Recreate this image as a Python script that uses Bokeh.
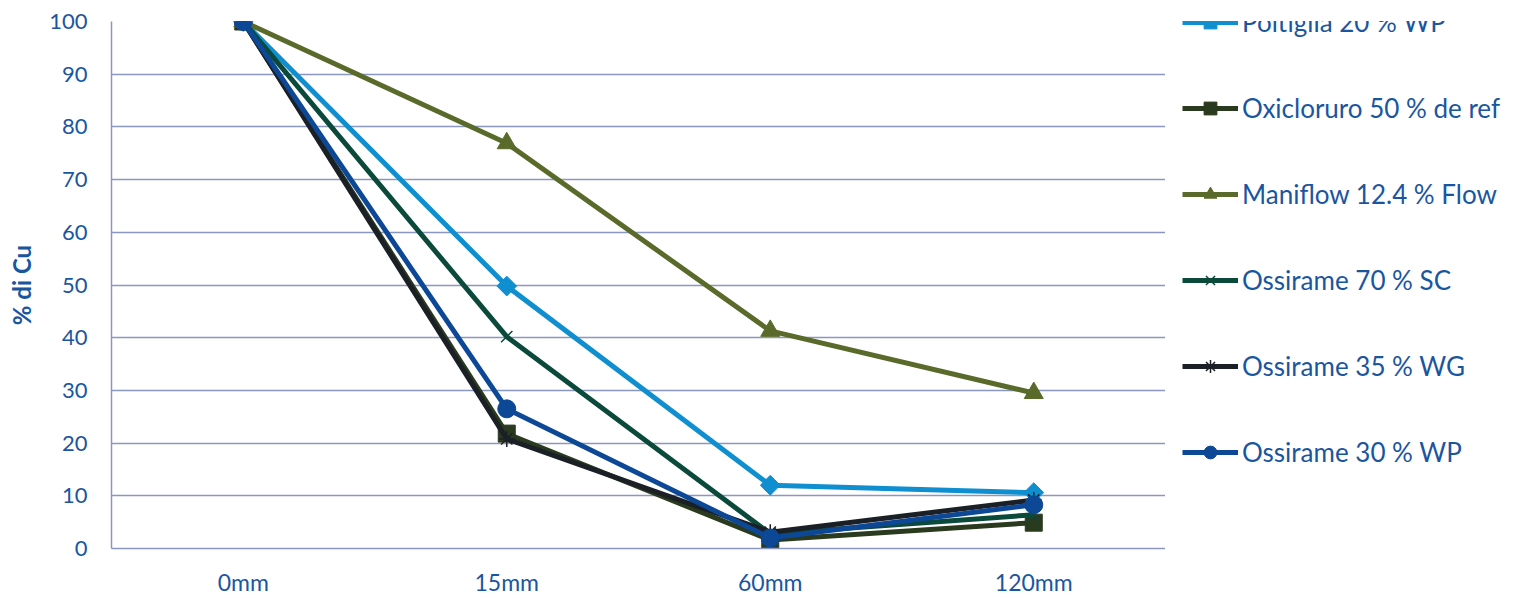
import math
from bokeh.plotting import figure
from bokeh.layouts import row
from bokeh.models import Legend, LegendItem, FactorRange, Range1d, FixedTicker
from bokeh.embed import file_html
from bokeh.resources import INLINE

# Categories (sampling times) and residual copper (%) per product
categories = ["0mm", "15mm", "60mm", "120mm"]
poltiglia_20_wp = [100, 49.8, 12.0, 10.6]
oxicloruro_50_ref = [100, 21.8, 1.6, 4.9]
maniflow_124_flow = [100, 76.9, 41.3, 29.5]
ossirame_70_sc = [100, 40.2, 2.8, 6.4]
ossirame_35_wg = [100, 20.8, 3.1, 9.2]
ossirame_30_wp = [100, 26.5, 2.0, 8.3]
y_ticks = [0, 10, 20, 30, 40, 50, 60, 70, 80, 90, 100]

# label, values, colour, marker, marker size, marker angle
series = [
    ("Poltiglia 20 % WP", poltiglia_20_wp, "#0f8fd0", "square", 14, math.pi / 4),
    ("Oxicloruro 50 % de ref", oxicloruro_50_ref, "#2a3a1e", "square", 17, 0),
    ("Maniflow 12.4 % Flow", maniflow_124_flow, "#5a6a2a", "triangle", 19, 0),
    ("Ossirame 70 % SC", ossirame_70_sc, "#0b4a3b", "x", 16, 0),
    ("Ossirame 35 % WG", ossirame_35_wg, "#1b2026", "asterisk", 16, 0),
    ("Ossirame 30 % WP", ossirame_30_wp, "#0c4896", "circle", 18, 0),
]

FONT = "Lato"
TEXT_BLUE = "#1a56a0"
GRID = "#8a98c0"


def draw_series(fig, xs, values, color, marker, size, angle):
    ln = fig.line(xs, values, line_color=color, line_width=5)
    if marker in ("x", "asterisk"):
        mk = fig.scatter(xs, values, marker=marker, size=size,
                         line_color=color, line_width=1.5, fill_color=None)
    else:
        mk = fig.scatter(xs, values, marker=marker, size=size, angle=angle,
                         line_color=color, fill_color=color)
    return ln, mk


# main chart
p = figure(
    width=1165, height=598,
    x_range=FactorRange(*categories), y_range=Range1d(0, 100),
    output_backend="svg", toolbar_location=None,
    min_border_left=111, min_border_right=0,
    min_border_top=21, min_border_bottom=49,
)
p.outline_line_color = None
p.background_fill_color = "white"
p.border_fill_color = "white"

p.yaxis.ticker = FixedTicker(ticks=y_ticks)
p.yaxis.axis_line_color = GRID
p.yaxis.axis_line_width = 1.5
p.yaxis.major_tick_line_color = None
p.yaxis.minor_tick_line_color = None
p.yaxis.major_tick_out = 0
p.yaxis.major_label_standoff = 24
p.yaxis.major_label_text_font = FONT
p.yaxis.major_label_text_font_size = "22px"
p.yaxis.major_label_text_color = TEXT_BLUE
p.yaxis.axis_label = "% di Cu"
p.yaxis.axis_label_text_font = FONT
p.yaxis.axis_label_text_font_style = "bold"
p.yaxis.axis_label_text_font_size = "24px"
p.yaxis.axis_label_text_color = TEXT_BLUE
p.yaxis.axis_label_standoff = 10

p.ygrid.ticker = FixedTicker(ticks=y_ticks)
p.ygrid.grid_line_color = GRID
p.ygrid.grid_line_width = 1.5
p.xgrid.grid_line_color = None

p.xaxis.axis_line_color = GRID
p.xaxis.axis_line_width = 1.5
p.xaxis.major_tick_line_color = None
p.xaxis.minor_tick_line_color = None
p.xaxis.major_tick_out = 0
p.xaxis.major_label_standoff = 19
p.xaxis.major_label_text_font = FONT
p.xaxis.major_label_text_font_size = "23px"
p.xaxis.major_label_text_color = TEXT_BLUE

for label, values, color, marker, size, angle in series:
    draw_series(p, categories, values, color, marker, size, angle)

# legend panel to the right of the chart (no axes, so its frame fills it);
# the swatch renderers sit outside the visible range so only the legend shows them
lg = figure(
    width=355, height=598,
    x_range=Range1d(0, 1), y_range=Range1d(0, 1),
    x_axis_location=None, y_axis_location=None,
    output_backend="svg", toolbar_location=None,
    min_border=0,
)
lg.grid.visible = False
lg.outline_line_color = None
lg.background_fill_color = "white"
lg.border_fill_color = "white"

items = []
for label, values, color, marker, size, angle in series:
    ln, mk = draw_series(lg, [-5, -4], [-5, -4], color, marker, size, angle)
    items.append(LegendItem(label=label, renderers=[ln, mk]))

legend = Legend(
    items=items,
    location=(17, 80),
    glyph_width=56, glyph_height=32, label_height=32,
    spacing=54, padding=0, margin=0, label_standoff=4,
    label_text_font=FONT, label_text_font_size="26px",
    label_text_color=TEXT_BLUE,
    border_line_color=None, background_fill_alpha=0,
)
lg.add_layout(legend, "center")

layout = row(p, lg)
open("out.html", "w").write(file_html(layout, INLINE))
